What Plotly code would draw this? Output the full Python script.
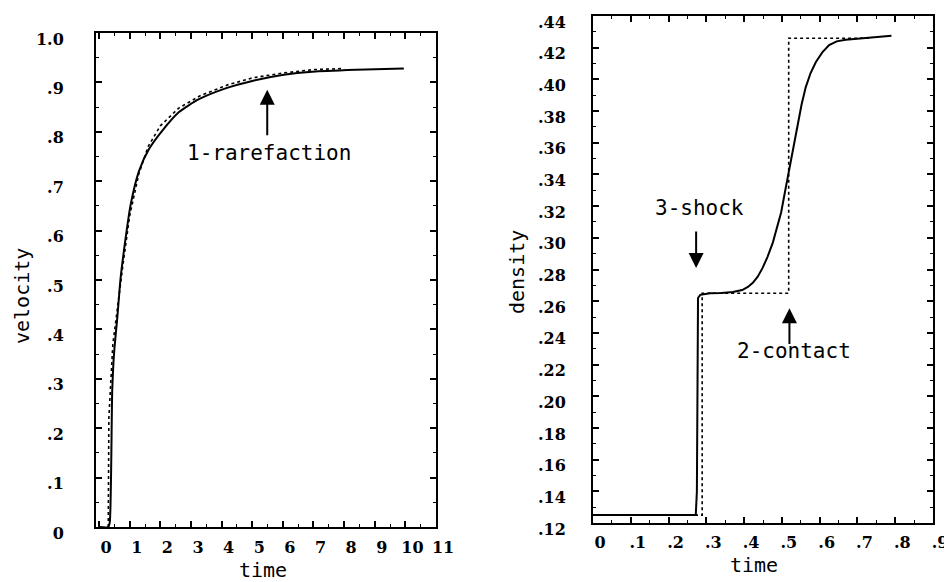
import plotly.graph_objects as go

# ---------------- data ----------------
# left panel: velocity vs time
vel_t_num = [0, 0.3, 0.35, 0.43, 0.49, 0.6, 0.7, 0.85, 1.03, 1.3, 1.63, 2.06, 2.61, 3.26, 4.13, 5.0, 5.98, 7.07, 8.7, 9.95]
vel_num = [0, 0, 0.01, 0.277, 0.352, 0.427, 0.502, 0.577, 0.652, 0.72, 0.765, 0.802, 0.84, 0.866, 0.888, 0.903, 0.915, 0.922, 0.926, 0.928]
vel_t_exact = [0.3, 0.32, 0.45, 0.6, 0.8, 1.0, 1.3, 1.6, 2.0, 2.6, 3.3, 4.2, 5.0, 6.0, 7.0, 8.0]
vel_exact = [0, 0.22, 0.37, 0.445, 0.54, 0.63, 0.715, 0.77, 0.812, 0.848, 0.873, 0.895, 0.909, 0.919, 0.926, 0.928]

# right panel: density vs time
den_t_num = [0, 0.272, 0.275, 0.278, 0.284, 0.31, 0.34, 0.37, 0.395, 0.41, 0.423, 0.436, 0.449, 0.462, 0.476, 0.487,
             0.498, 0.509, 0.52, 0.53, 0.541, 0.552, 0.563, 0.576, 0.59, 0.607, 0.625, 0.645, 0.669, 0.70, 0.73, 0.79]
den_num = [0.125, 0.125, 0.14, 0.262, 0.264, 0.265, 0.2652, 0.2658, 0.267, 0.269, 0.2716, 0.2755, 0.281, 0.288, 0.297, 0.306,
           0.316, 0.33, 0.344, 0.358, 0.372, 0.384, 0.395, 0.404, 0.411, 0.417, 0.4216, 0.424, 0.425, 0.4257, 0.426, 0.4275]
den_t_exact = [0, 0.289, 0.289, 0.518, 0.518, 0.73]
den_exact = [0.125, 0.125, 0.265, 0.265, 0.426, 0.426]

# tick labels
vel_x_ticks = list(range(12))
vel_x_text = [str(v) for v in vel_x_ticks]
vel_y_ticks = [0, 0.1, 0.2, 0.3, 0.4, 0.5, 0.6, 0.7, 0.8, 0.9, 1.0]
vel_y_text = ["0", ".1", ".2", ".3", ".4", ".5", ".6", ".7", ".8", ".9", "1.0"]
den_x_ticks = [0, 0.1, 0.2, 0.3, 0.4, 0.5, 0.6, 0.7, 0.8, 0.9]
den_x_text = ["0", ".1", ".2", ".3", ".4", ".5", ".6", ".7", ".8", ".9"]
den_y_ticks = [0.12, 0.14, 0.16, 0.18, 0.20, 0.22, 0.24, 0.26, 0.28, 0.30, 0.32, 0.34, 0.36, 0.38, 0.40, 0.42, 0.44]
den_y_text = [".12", ".14", ".16", ".18", ".20", ".22", ".24", ".26", ".28", ".30", ".32", ".34", ".36", ".38", ".40", ".42", ".44"]

# ---------------- figure ----------------
# the page body has an 8px margin, so the figure is drawn 8px in from the corner
OFF = 8
W, H = 952 - OFF, 582 - OFF


def px(x):
    return (x - OFF) / W


def py(y):
    return 1 - (y - OFF) / H


fig = go.Figure()

dotted = dict(color="black", width=1.6, dash="dot")

# solid (numerical) curves on the main axes; dotted (exact) curves on a twin subplot that
# occupies the same box and carries the tick marks of the top and right edges
fig.add_trace(go.Scatter(x=vel_t_num, y=vel_num, mode="lines",
                         line=dict(color="black", width=2, shape="spline", smoothing=0.6),
                         xaxis="x", yaxis="y", showlegend=False))
fig.add_trace(go.Scatter(x=vel_t_exact, y=vel_exact, mode="lines", line=dotted, xaxis="x3", yaxis="y3", showlegend=False))
fig.add_trace(go.Scatter(x=den_t_num, y=den_num, mode="lines", line=dict(color="black", width=2),
                         xaxis="x2", yaxis="y2", showlegend=False))
fig.add_trace(go.Scatter(x=den_t_exact, y=den_exact, mode="lines", line=dotted, xaxis="x4", yaxis="y4", showlegend=False))

tickfont = dict(family="DejaVu Serif", size=16, color="black", weight="bold")
mono = "DejaVu Sans Mono"

common = dict(showgrid=False, zeroline=False, showline=True, linecolor="black", linewidth=2,
              mirror=True, ticks="inside", ticklen=6, tickwidth=1.5, tickcolor="black",
              tickfont=tickfont, tickmode="array", automargin=False)

twin = dict(showgrid=False, zeroline=False, showline=False, ticks="inside", ticklen=6, tickwidth=1.5,
            tickcolor="black", showticklabels=False, tickmode="array", automargin=False)


def minor(dt, t0):
    return dict(dtick=dt, tick0=t0, ticks="inside", ticklen=3, tickwidth=1, tickcolor="black")


vel_xr, vel_yr = [-0.1, 11], [0, 1.0]
den_xr, den_yr = [0, 0.9], [0.12, 0.44]
L_dom_x, L_dom_y = [px(96), px(436)], [py(527), py(33)]
R_dom_x, R_dom_y = [px(593), px(933)], [py(523), py(16)]

fig.update_layout(
    width=W, height=H, margin=dict(l=0, r=0, t=0, b=0),
    paper_bgcolor="white", plot_bgcolor="rgba(0,0,0,0)",
    xaxis=dict(domain=L_dom_x, range=vel_xr, anchor="y",
               tickvals=vel_x_ticks, ticktext=vel_x_text, ticklabelshift=7, ticklabelstandoff=5,
               minor=minor(0.5, 0), **common),
    yaxis=dict(domain=L_dom_y, range=vel_yr, anchor="x",
               tickvals=vel_y_ticks, ticktext=vel_y_text, ticklabelshift=6, ticklabelstandoff=27,
               minor=minor(0.05, 0), **common),
    xaxis2=dict(domain=R_dom_x, range=den_xr, anchor="y2",
                tickvals=den_x_ticks, ticktext=den_x_text, ticklabelshift=7, ticklabelstandoff=4,
                minor=minor(0.05, 0), **common),
    yaxis2=dict(domain=R_dom_y, range=den_yr, anchor="x2",
                tickvals=den_y_ticks, ticktext=den_y_text, ticklabelshift=6, ticklabelstandoff=22,
                minor=minor(0.01, 0.12), **common),
    # twin subplots: tick marks on top / right edges
    xaxis3=dict(domain=L_dom_x, side="top", anchor="y3", range=vel_xr, tickvals=vel_x_ticks,
                minor=minor(0.5, 0), **twin),
    yaxis3=dict(domain=L_dom_y, side="right", anchor="x3", range=vel_yr, tickvals=vel_y_ticks,
                minor=minor(0.05, 0), **twin),
    xaxis4=dict(domain=R_dom_x, side="top", anchor="y4", range=den_xr, tickvals=den_x_ticks,
                minor=minor(0.05, 0), **twin),
    yaxis4=dict(domain=R_dom_y, side="right", anchor="x4", range=den_yr, tickvals=den_y_ticks,
                minor=minor(0.01, 0.12), **twin),
)

anns = []
title_font = dict(family=mono, size=20, color="black")
centered = dict(xref="paper", yref="paper", xanchor="center", yanchor="middle", showarrow=False, font=title_font)
anns.append(dict(text="velocity", x=px(22), y=py(296), textangle=-90, **centered))
anns.append(dict(text="time", x=px(263), y=py(570), **centered))
anns.append(dict(text="density", x=px(517), y=py(272), textangle=-90, **centered))
anns.append(dict(text="time", x=px(754), y=py(565), **centered))

lab_font = dict(family=mono, size=21, color="black")
arrow = dict(showarrow=True, arrowhead=2, arrowsize=1.5, arrowwidth=2, arrowcolor="black")
anns.append(dict(text="1-rarefaction", x=5.55, y=0.757, xref="x", yref="y", showarrow=False, font=lab_font))
anns.append(dict(text="", x=5.49, y=0.885, ax=5.49, ay=0.79, xref="x", yref="y", axref="x", ayref="y", **arrow))
anns.append(dict(text="3-shock", x=0.281, y=0.319, xref="x2", yref="y2", showarrow=False, font=lab_font))
anns.append(dict(text="", x=0.273, y=0.281, ax=0.273, ay=0.305, xref="x2", yref="y2", axref="x2", ayref="y2", **arrow))
anns.append(dict(text="2-contact", x=0.532, y=0.2284, xref="x2", yref="y2", showarrow=False, font=lab_font))
anns.append(dict(text="", x=0.52, y=0.2555, ax=0.52, ay=0.232, xref="x2", yref="y2", axref="x2", ayref="y2", **arrow))

fig.update_layout(annotations=anns)
fig.write_html("out.html")
